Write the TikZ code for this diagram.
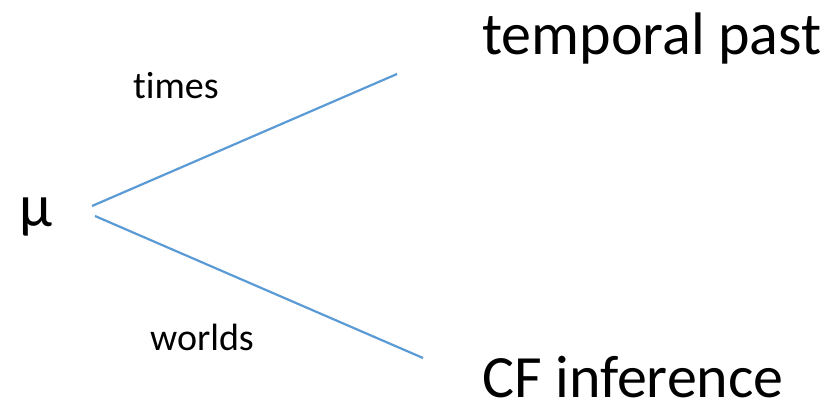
\documentclass[tikz,border=0pt]{standalone}
\usepackage{fontspec}
\setmainfont{Carlito}[Ligatures=NoCommon]
\definecolor{branch}{RGB}{91,155,213}
\begin{document}
\begin{tikzpicture}[x=1pt,y=-1pt,
  lbl/.style={anchor=base west,inner sep=0pt,text=black},
  big/.style={lbl,font=\fontsize{60}{62}\selectfont},
  small/.style={lbl,font=\fontsize{38}{40}\selectfont},
  branchline/.style={draw=branch,line width=2.2pt}]
  \useasboundingbox (0,0) rectangle (832,404);
  % labels
  \node[big]   (mu)     at (19,226)  {μ};
  \node[big]   (past)   at (482,55)  {temporal past};
  \node[big,text depth=0pt] (cf) at (482,397) {CF inference};
  \node[small] (times)  at (133,98)  {times};
  \node[small] (worlds) at (150,350) {worlds};
  % branch ends
  \coordinate (upstart) at (92,206);
  \coordinate (upend)   at (397,74);
  \coordinate (lostart) at (95,216);
  \coordinate (loend)   at (423,358);
  \draw[branchline] (upstart) -- (upend);
  \draw[branchline] (lostart) -- (loend);
\end{tikzpicture}
\end{document}
